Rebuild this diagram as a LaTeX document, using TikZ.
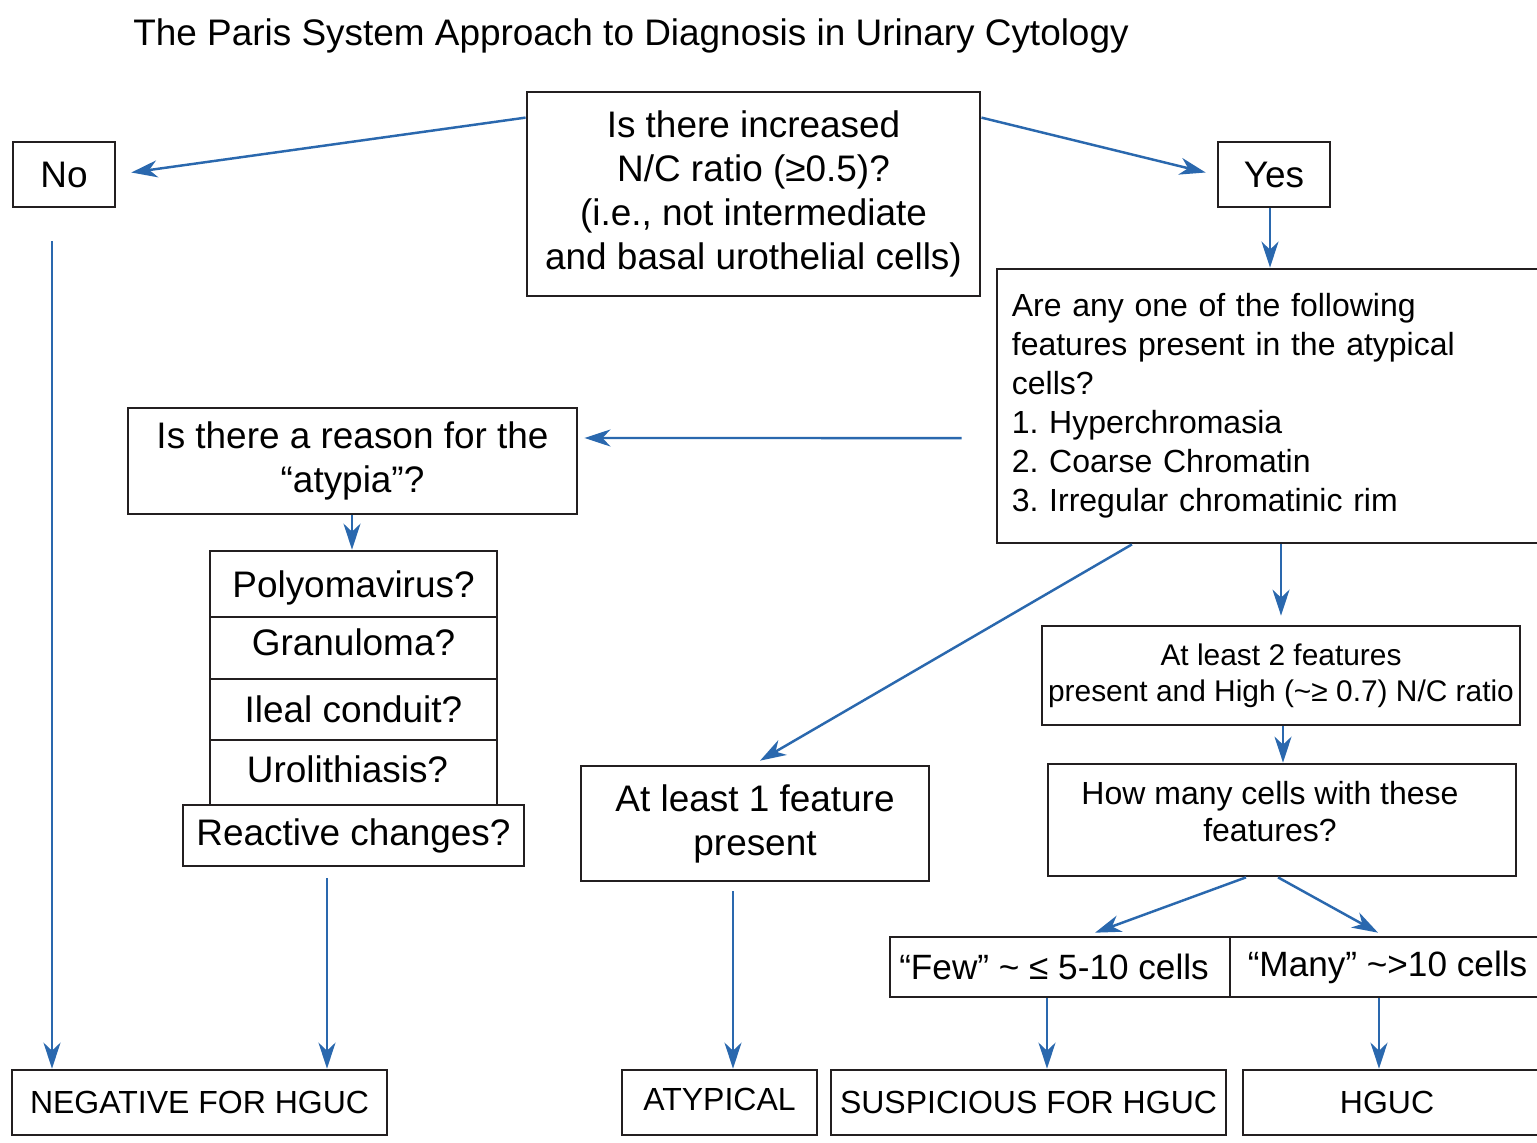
\documentclass[tikz,border=0pt]{standalone}
\usepackage{fontspec}
\setmainfont{Liberation Sans}
\usetikzlibrary{arrows.meta,calc}
\definecolor{flowblue}{HTML}{2A68AE}
\definecolor{boxline}{HTML}{231F20}
\newcommand{\bodysize}{\fontsize{10.5}{12.5}\selectfont}
\newcommand{\cellsize}{\fontsize{10}{12}\selectfont}
\newcommand{\featsize}{\fontsize{9.1}{11.1}\selectfont}
\newcommand{\twosize}{\fontsize{8.5}{10.2}\selectfont}
\newcommand{\nudge}[2]{\raisebox{#1}[\height][\depth]{#2}}
\frenchspacing

\begin{document}
\begin{tikzpicture}[x=0.01cm, y=-0.01cm,
  box/.style={rectangle, draw=boxline, line width=0.75pt, fill=white,
    inner sep=0pt, align=center, font=\bodysize, text=black},
  arw/.style={-{Stealth[length=0.26cm, width=0.17cm, inset=0.08cm]},
    line width=0.7pt, flowblue},
  ttl/.style={font=\bodysize, text=black, inner sep=0pt}
]
\useasboundingbox (0,0) rectangle (1537,1142);
\clip (0,0) rectangle (1537,1142);
\fill[white] (0,0) rectangle (1537,1142);

%─── TITLE ───────────────────────────────────────────────────────────────────
\node[ttl] (title) at (631,36) {The Paris System Approach to Diagnosis in Urinary Cytology};

%─── ROW 1 ───────────────────────────────────────────────────────────────────
\node[box, minimum width=4.53cm, minimum height=2.04cm] (ncq) at (753.5,194) {%
  Is there increased\\N/C ratio (≥0.5)?\\(i.e., not intermediate\\
  and basal urothelial cells)};
\node[box, minimum width=1.02cm, minimum height=0.65cm] (no)  at (64,174.5)   {No};
\node[box, minimum width=1.12cm, minimum height=0.65cm] (yes) at (1274,174.5) {Yes};

%─── ROW 2 ───────────────────────────────────────────────────────────────────
\node[box, font=\featsize, align=left, text width=5.18cm, inner xsep=0.15cm,
  minimum height=2.74cm] (feat) at (1271,406) {%
  Are any one of the following\\features present in the atypical\\cells?\\
  1. Hyperchromasia\\2. Coarse Chromatin\\3. Irregular chromatinic rim};
\node[box, minimum width=4.49cm, minimum height=1.06cm] (reason) at (352.5,461) {%
  Is there a reason for the\\“atypia”?};

%─── REASONS ─────────────────────────────────────────────────────────────────
\node[box, minimum width=2.87cm, minimum height=0.66cm] (poly)  at (353.5,584)   {\nudge{-0.04cm}{Polyomavirus?}};
\node[box, minimum width=2.87cm, minimum height=0.62cm] (gran)  at (353.5,648)   {\nudge{0.06cm}{Granuloma?}};
\node[box, minimum width=2.87cm, minimum height=0.61cm] (ileal) at (353.5,709.5) {Ileal conduit?};
\node[box, minimum width=2.87cm, minimum height=0.65cm] (uro)   at (353.5,772.5) {\nudge{0.03cm}{Urolithiasis?}\hspace*{0.12cm}};
\node[box, minimum width=3.41cm, minimum height=0.61cm] (react) at (353.5,835.5) {Reactive changes?};

%─── ROW 3 ───────────────────────────────────────────────────────────────────
\node[box, minimum width=3.48cm, minimum height=1.15cm] (one) at (755,823.5) {%
  At least 1 feature\\present};
\node[box, font=\twosize, minimum width=4.78cm, minimum height=0.99cm] (two) at (1281,675.5) {%
  At least 2 features\\present and High (\textasciitilde≥ 0.7) N/C ratio};
\node[box, font=\featsize, minimum width=4.68cm, minimum height=1.12cm] (count) at (1282,820) {%
  \nudge{0.05cm}{\begin{tabular}{@{}c@{}}How many cells with these\\[-0.02cm]features?\end{tabular}}\hspace*{0.24cm}};
\node[box, font=\cellsize, minimum width=3.40cm, minimum height=0.60cm] (few)  at (1060,967)   {“Few” \textasciitilde\ ≤ 5-10 cells\hspace*{0.12cm}};
\node[box, font=\cellsize, minimum width=3.15cm, minimum height=0.60cm] (many) at (1387.5,967) {“Many” \textasciitilde>10 cells};

%─── RESULTS ─────────────────────────────────────────────────────────────────
\node[box, font=\featsize, minimum width=3.75cm, minimum height=0.65cm] (neg)  at (199.5,1102.5) {NEGATIVE FOR HGUC};
\node[box, font=\featsize, minimum width=1.95cm, minimum height=0.65cm] (atyp) at (719.5,1102.5) {\nudge{0.03cm}{ATYPICAL}};
\node[box, font=\featsize, minimum width=3.95cm, minimum height=0.65cm] (susp) at (1028.5,1102.5) {SUSPICIOUS FOR HGUC};
\node[box, font=\featsize, minimum width=3.02cm, minimum height=0.65cm] (hguc) at (1394,1102.5) {HGUC\hspace*{0.14cm}};

%─── ARROWS ──────────────────────────────────────────────────────────────────

% A1 — question to No / Yes
\draw[arw] ($(ncq.north west)+(0,27)$) -- ([xshift=0.15cm,yshift=0.02cm]no.east);
\draw[arw] ($(ncq.north east)+(0,27)$) -- ([xshift=-0.11cm,yshift=0.02cm]yes.west);

% A2 — Yes to the feature list
\draw[arw] ([xshift=-0.04cm]yes.south) -- ([xshift=-0.04cm]yes.south |- feat.north);

% A3 — feature list to reason (starts clear of the box)
\draw[arw] ([xshift=-0.34cm,yshift=-0.32cm]feat.west) -- ([xshift=0.06cm,yshift=0.23cm]reason.east);
\draw[arw] ([xshift=-0.005cm]reason.south) -- ([xshift=-0.005cm]reason.south |- poly.north);

% A4 — feature list to one / two features
\draw[arw] ([xshift=-1.39cm]feat.south) -- ([xshift=0.05cm,yshift=0.04cm]one.north);
\draw[arw] ([xshift=0.10cm]feat.south) -- ([xshift=0.10cm,yshift=0.09cm]feat.south |- two.north);
\draw[arw] ([xshift=0.02cm]two.south) -- ([xshift=0.02cm]two.south |- count.north);

% A5 — how many cells to few / many
\draw[arw] ([xshift=-0.36cm]count.south) -- ([xshift=0.35cm,yshift=0.03cm]few.north);
\draw[arw] ([xshift=-0.04cm]count.south) -- ([xshift=-0.095cm,yshift=0.03cm]many.north);

% A6 — down to the results
\coordinate (nostart) at ([xshift=-0.12cm,yshift=-0.33cm]no.south);
\draw[arw] (nostart) -- (nostart |- neg.north);
\coordinate (reactstart) at ([xshift=-0.265cm,yshift=-0.11cm]react.south);
\draw[arw] (reactstart) -- (reactstart |- neg.north);
\coordinate (onestart) at ([xshift=-0.22cm,yshift=-0.09cm]one.south);
\draw[arw] (onestart) -- (onestart |- atyp.north);
\draw[arw] ([xshift=-0.13cm]few.south) -- ([xshift=-0.13cm]few.south |- susp.north);
\draw[arw] ([xshift=-0.085cm]many.south) -- ([xshift=-0.085cm]many.south |- hguc.north);

\end{tikzpicture}
\end{document}
